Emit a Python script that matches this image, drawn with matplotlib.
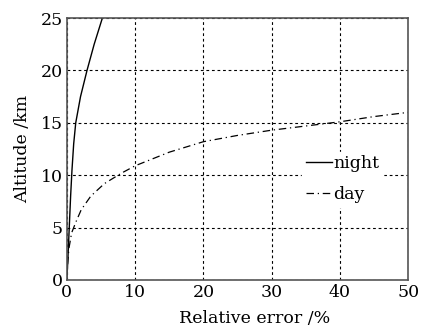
import matplotlib.pyplot as plt

# night: relative error (%) vs altitude (km)
night_err = [0, 0.15, 0.35, 0.55, 0.75, 1.0, 1.3, 2.0, 2.95, 4.0, 5.2]
night_alt = [0, 2, 5, 8, 10.5, 13, 15, 17.5, 20, 22.5, 25]

# day
day_err = [0.1, 0.3, 0.7, 1.3, 2.1, 3.5, 5.5, 8, 10, 15, 20, 25, 30, 35, 40, 45, 50]
day_alt = [1.5, 3, 4.5, 5.5, 6.7, 8, 9.2, 10.2, 10.9, 12.2, 13.2, 13.8, 14.3, 14.7, 15.1, 15.6, 16.0]

plt.rcParams['font.family'] = ['DejaVu Serif']
plt.rcParams['font.size'] = 12.5

fig = plt.figure(figsize=(4.37, 3.29), dpi=100)
ax = fig.add_axes([0.153, 0.149, 0.781, 0.796])

ax.plot(night_err, night_alt, color='black', lw=1.0, label='night')
ax.plot(day_err, day_alt, color='black', lw=0.9, linestyle=(0, (6, 3, 1, 3)), label='day')

ax.set_xlim(0, 50)
ax.set_ylim(0, 25)
ax.set_xticks([0, 10, 20, 30, 40, 50])
ax.set_yticks([0, 5, 10, 15, 20, 25])
ax.grid(True, color='black', linestyle=(0, (2.5, 2.5)), linewidth=0.8)
ax.tick_params(length=0, pad=3)
for s in ax.spines.values():
    s.set_color('#555555')
    s.set_linewidth(1.2)

ax.set_xlabel('Relative error /%')
ax.xaxis.set_label_coords(0.55, -0.115)
ax.set_ylabel('Altitude /km')
ax.yaxis.set_label_coords(-0.105, 0.5)

leg = ax.legend(loc='center left', bbox_to_anchor=(0.69, 0.385), frameon=True,
                framealpha=1, edgecolor='white', fancybox=False,
                handlelength=1.5, handletextpad=0.1, borderpad=0.2,
                labelspacing=0.8, borderaxespad=0)

fig.savefig('out.png', dpi=100, facecolor='white')
